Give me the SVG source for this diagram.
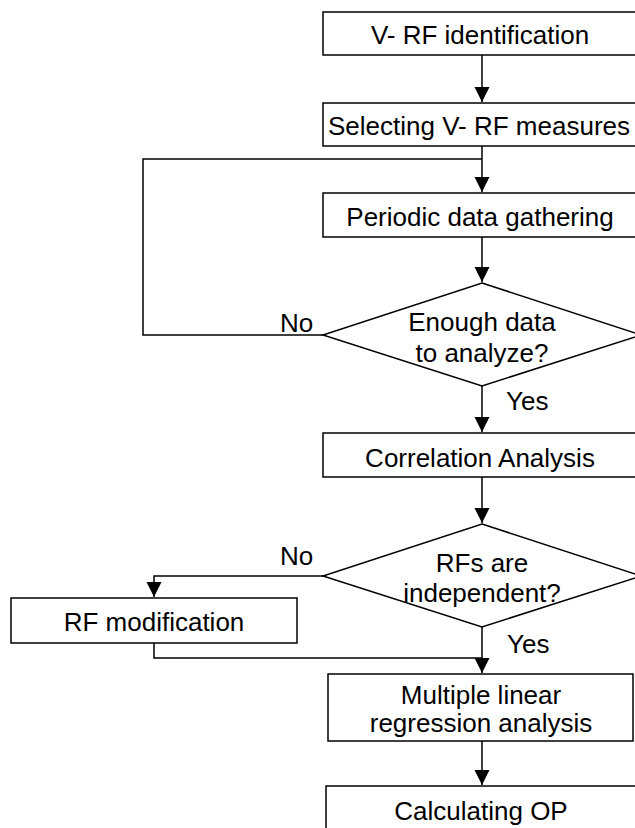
<svg xmlns="http://www.w3.org/2000/svg" width="635" height="828" viewBox="0 0 635 828">
<style>
.b{fill:#fff;stroke:#000;stroke-width:1.5}
.t{font-family:"Liberation Sans",Arial,sans-serif;font-size:26px;fill:#000;text-anchor:middle}
.l{font-family:"Liberation Sans",Arial,sans-serif;font-size:26px;fill:#000}
.c{fill:none;stroke:#000;stroke-width:1.5}
</style>
<defs>
<marker id="a" markerUnits="userSpaceOnUse" markerWidth="16" markerHeight="16" refX="15" refY="7.5" orient="auto">
<path d="M0,0 L15,7.5 L0,15 z" fill="#000"/>
</marker>
</defs>
<rect width="635" height="828" fill="#fff"/>
<g id="connectors">
<path class="c" d="M482,55 V102" marker-end="url(#a)"/>
<path class="c" d="M482,146 V192" marker-end="url(#a)"/>
<path class="c" d="M323,335 H143 V159 H482"/>
<path class="c" d="M482,237 V282" marker-end="url(#a)"/>
<path class="c" d="M482,386 V432" marker-end="url(#a)"/>
<path class="c" d="M482,477 V523" marker-end="url(#a)"/>
<path class="c" d="M323,576 H154 V597" marker-end="url(#a)"/>
<path class="c" d="M154,643 V658 H482"/>
<path class="c" d="M482,627 V673" marker-end="url(#a)"/>
<path class="c" d="M482,741 V785" marker-end="url(#a)"/>
</g>
<g id="n1"><rect class="b" x="323" y="12" width="318" height="43"/><text class="t" x="480" y="44">V- RF identification</text></g>
<g id="n2"><rect class="b" x="323" y="103" width="318" height="43"/><text class="t" x="479" y="135">Selecting V- RF measures</text></g>
<g id="n3"><rect class="b" x="323" y="193" width="318" height="44"/><text class="t" x="480" y="226">Periodic data gathering</text></g>
<g id="d1"><polygon class="b" points="482,283 641,335 482,386 323,335"/><text class="t" x="482" y="331">Enough data</text><text class="t" x="482" y="362">to analyze?</text></g>
<g id="n4"><rect class="b" x="323" y="433" width="318" height="44"/><text class="t" x="480" y="467">Correlation Analysis</text></g>
<g id="d2"><polygon class="b" points="482,524 641,576 482,627 323,576"/><text class="t" x="482" y="572">RFs are</text><text class="t" x="482" y="602">independent?</text></g>
<g id="n5"><rect class="b" x="11" y="598" width="286" height="45"/><text class="t" x="154" y="631">RF modification</text></g>
<g id="n6"><rect class="b" x="328" y="674" width="305" height="67"/><text class="t" x="481" y="704">Multiple linear</text><text class="t" x="481" y="732">regression analysis</text></g>
<g id="n7"><rect class="b" x="326" y="786" width="315" height="60"/><text class="t" x="481" y="820">Calculating OP</text></g>
<g id="labels">
<text class="l" x="280" y="332">No</text>
<text class="l" x="506" y="410">Yes</text>
<text class="l" x="280" y="565">No</text>
<text class="l" x="507" y="653">Yes</text>
</g>
</svg>
